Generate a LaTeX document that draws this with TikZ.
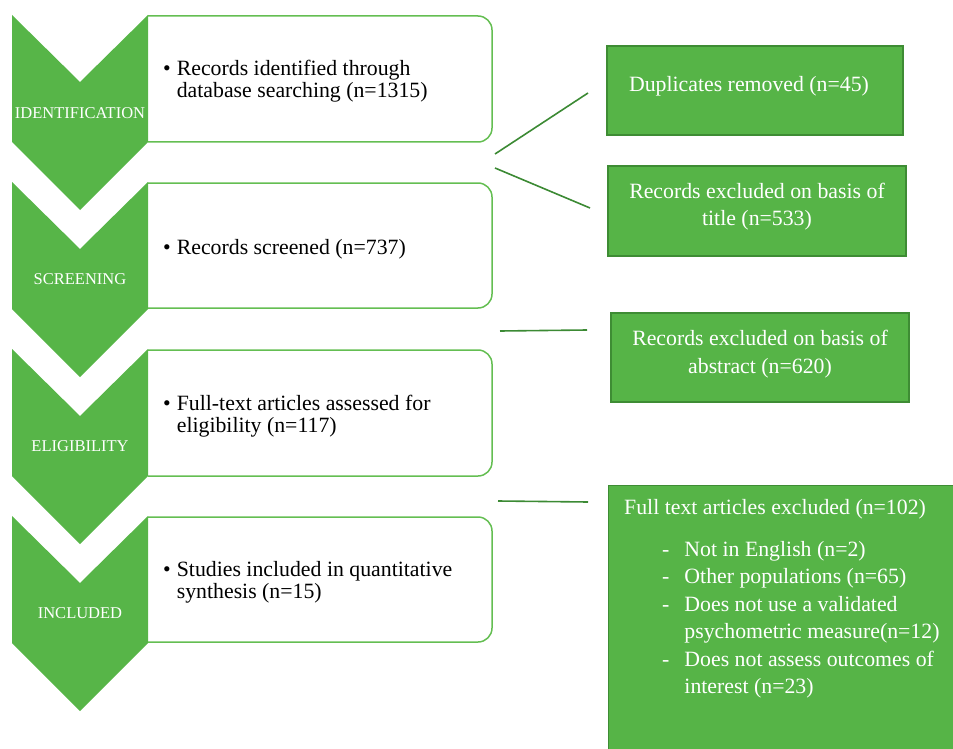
\documentclass[tikz,border=0pt]{standalone}
\usepackage{fontspec}
\setmainfont{Liberation Serif}
\definecolor{chev}{RGB}{87,181,72}
\definecolor{boxfill}{RGB}{86,180,71}
\definecolor{boxline}{RGB}{62,140,52}
\definecolor{rline}{RGB}{100,190,82}
\definecolor{connc}{RGB}{60,138,52}
\begin{document}
\begin{tikzpicture}[x=1pt,y=-1pt,
  chevlabel/.style={text=white,font=\fontsize{16.5}{18}\selectfont,inner sep=0},
  rbox/.style={draw=rline,line width=1.5pt,rounded corners=14pt},
  bodytext/.style={font=\fontsize{21.8}{22.5}\selectfont,inner sep=0,anchor=west},
  exbox/.style={rectangle,fill=boxfill,draw=boxline,line width=1.3pt,inner sep=0},
  extext/.style={text=white,font=\fontsize{21.8}{27.5}\selectfont,align=center,inner sep=0},
  connline/.style={draw=connc,line width=1.6pt}]
\useasboundingbox (0,0) rectangle (953,749);
\clip (0,0) rectangle (953,749);

% rounded stage boxes
\draw[rbox] (148,16) -- (492,16) -- (492,142) -- (148,142);
\draw[rbox] (148,183) -- (492,183) -- (492,308) -- (148,308);
\draw[rbox] (148,350) -- (492,350) -- (492,476) -- (148,476);
\draw[rbox] (148,517) -- (492,517) -- (492,642) -- (148,642);

% chevrons
\foreach \t in {15,182,349,516}{
  \fill[chev] (12,\t) -- (80,\t+67) -- (148,\t) -- (148,\t+127) -- (80,\t+195) -- (12,\t+127) -- cycle;
}
\node[chevlabel] (l1) at (80,113.5) {IDENTIFICATION};
\node[chevlabel] (l2) at (80,279.5) {SCREENING};
\node[chevlabel] (l3) at (80,446.5) {ELIGIBILITY};
\node[chevlabel] (l4) at (80,613.5) {INCLUDED};

% stage texts
\node[bodytext] (b1) at (163,82) {\begin{tabular}{@{}l@{\hspace{6pt}}l@{}}\textbullet & Records identified through\\ & database searching (n=1315)\end{tabular}};
\node[bodytext] (b2) at (163,250) {\begin{tabular}{@{}l@{\hspace{6pt}}l@{}}\textbullet & Records screened (n=737)\end{tabular}};
\node[bodytext] (b3) at (163,417) {\begin{tabular}{@{}l@{\hspace{6pt}}l@{}}\textbullet & Full-text articles assessed for\\ & eligibility (n=117)\end{tabular}};
\node[bodytext] (b4) at (163,583) {\begin{tabular}{@{}l@{\hspace{6pt}}l@{}}\textbullet & Studies included in quantitative\\ & synthesis (n=15)\end{tabular}};

% exclusion boxes
\node[exbox,minimum width=296pt,minimum height=89pt] (e1) at (755,90.5) {};
\node[extext] (x1) at (749,86) {Duplicates removed (n=45)};
\node[exbox,minimum width=298pt,minimum height=90pt] (e2) at (757,211) {};
\node[extext] (x2) at (757,206.5) {Records excluded on basis of\\title (n=533)};
\node[exbox,minimum width=298pt,minimum height=89pt] (e3) at (760,357.5) {};
\node[extext] (x3) at (760,354) {Records excluded on basis of\\abstract (n=620)};
\node[exbox,minimum width=360pt,minimum height=280pt,anchor=north west] (e4) at (608,485) {};
\node[extext,anchor=west,align=left] (x4) at (624,509) {Full text articles excluded (n=102)};
\node[extext,anchor=west,align=left] (x5) at (662,619.5) {\begin{tabular}{@{}l@{\hspace{15pt}}l@{}}
- & Not in English (n=2)\\
- & Other populations (n=65)\\
- & Does not use a validated\\
  & psychometric measure(n=12)\\
- & Does not assess outcomes of\\
  & interest (n=23)\end{tabular}};

% connectors
\coordinate (c1a) at (495,154); \coordinate (c1b) at (588,93);
\coordinate (c2a) at (495,168); \coordinate (c2b) at (590,208);
\coordinate (c3a) at (500,331); \coordinate (c3b) at (587,330);
\coordinate (c4a) at (498,501); \coordinate (c4b) at (588,502);
\draw[connline] (c1a) -- (c1b);
\draw[connline] (c2a) -- (c2b);
\draw[connline] (c3a) -- (c3b);
\draw[connline] (c4a) -- (c4b);
\end{tikzpicture}
\end{document}
